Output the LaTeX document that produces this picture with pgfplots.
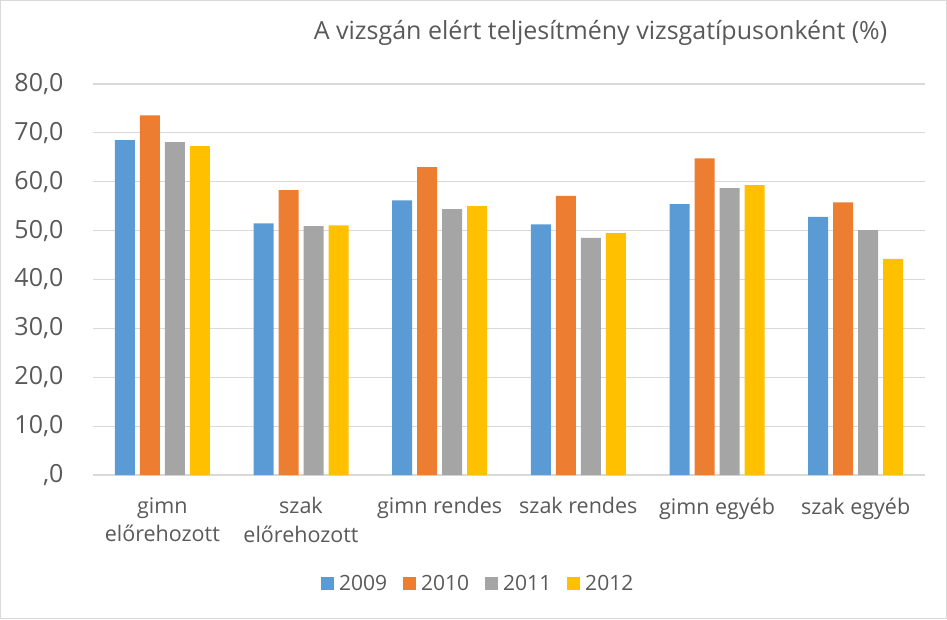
\documentclass[border=0pt]{standalone}
\usepackage{pgfplots}
\pgfplotsset{compat=1.18}
\usepackage{fontspec}
\setmainfont{Open Sans}
\definecolor{c09}{RGB}{91,155,213}
\definecolor{c10}{RGB}{237,125,49}
\definecolor{c11}{RGB}{165,165,165}
\definecolor{c12}{RGB}{255,192,0}
\definecolor{txt}{RGB}{89,89,89}
\definecolor{grd}{RGB}{217,217,217}
\begin{document}
\begin{tikzpicture}
\draw[grd, line width=1.2pt] (0.6pt,0.6pt) rectangle (946.4pt,618.4pt);
\node[txt, font=\fontsize{25}{28}\selectfont, anchor=center] at (600.5pt,586pt) {A vizsgán elért teljesítmény vizsgatípusonként (\%)};
\begin{axis}[
    at={(93pt,144pt)}, anchor=south west,
    scale only axis, width=832pt, height=391pt,
    ybar=5pt, bar width=20pt,
    xmin=-0.5, xmax=5.5, ymin=0, ymax=80,
    ytick={0,10,...,80},
    yticklabels={{,0},{10,0},{20,0},{30,0},{40,0},{50,0},{60,0},{70,0},{80,0}},
    xtick={0,1,2,3,4,5},
    xticklabels={{gimn\\előrehozott},{szak\\előrehozott},{gimn rendes},{szak rendes},{gimn egyéb},{szak egyéb}},
    x tick label style={align=center, font=\fontsize{21.5}{28.5}\selectfont, text=txt, anchor=north, yshift=-19pt},
    y tick label style={font=\fontsize{25}{28}\selectfont, text=txt, anchor=east, xshift=-26pt},
    major tick length=0pt,
    ymajorgrids, grid style={grd, line width=1.2pt},
    axis x line*=bottom, axis y line*=left,
    y axis line style={draw=none},
    x axis line style={grd, line width=1.2pt, -},
    legend columns=4,
    legend style={at={(0.463,-0.278)}, anchor=center, draw=none, fill=none,
        font=\fontsize{21}{24}\selectfont, text=txt,
        /tikz/every odd column/.append style={column sep=3pt},
        /tikz/every even column/.append style={column sep=14pt}},
    legend image code/.code={\fill[#1] (0pt,-6.5pt) rectangle (13pt,6.5pt);},
]
\addplot[fill=c09, draw=none] coordinates {(0,68.5) (1,51.5) (2,56.2) (3,51.3) (4,55.4) (5,52.8)};
\addplot[fill=c10, draw=none] coordinates {(0,73.6) (1,58.3) (2,63.0) (3,57.1) (4,64.8) (5,55.8)};
\addplot[fill=c11, draw=none] coordinates {(0,68.1) (1,50.9) (2,54.4) (3,48.5) (4,58.7) (5,50.1)};
\addplot[fill=c12, draw=none] coordinates {(0,67.3) (1,51.1) (2,55.0) (3,49.5) (4,59.3) (5,44.2)};
\legend{2009,2010,2011,2012}
\end{axis}
\end{tikzpicture}
\end{document}
